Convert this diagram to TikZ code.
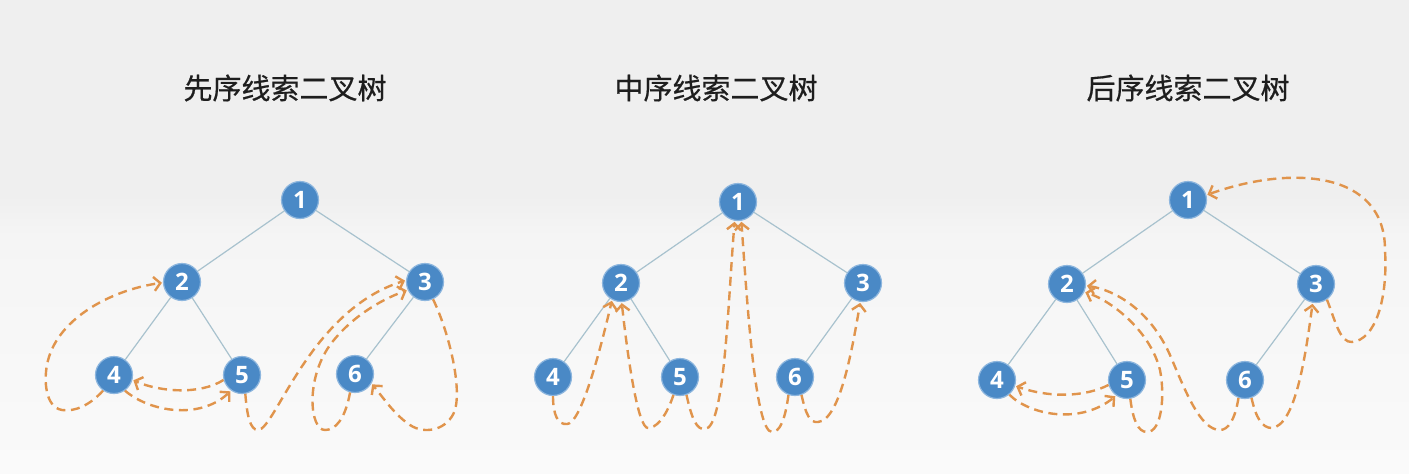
\documentclass[tikz,border=0pt]{standalone}
\usepackage{fontspec}
\setmainfont{Open Sans}
\newfontfamily\cjk[FakeBold=0.6]{Noto Sans CJK SC}
\usetikzlibrary{arrows.meta}
\definecolor{nodeblue}{HTML}{4A89C6}
\definecolor{ringblue}{HTML}{8DB6DE}
\definecolor{edgecol}{HTML}{A8C2CE}
\definecolor{threadcol}{HTML}{E0944C}
\definecolor{bgtop}{HTML}{EFEFEF}
\definecolor{bgmid}{HTML}{F5F5F5}
\definecolor{bgbot}{HTML}{FAFAFA}
\definecolor{titlecol}{HTML}{1E1E1E}
\tikzset{
  tnode/.style={circle, fill=nodeblue, draw=ringblue, line width=0.6pt, minimum size=18.5pt, inner sep=0pt,
    text=white, font=\fontsize{12}{12}\selectfont\bfseries},
  tedge/.style={draw=edgecol, line width=0.6pt},
  thread/.style={draw=threadcol, line width=1.2pt, dash pattern=on 4.5pt off 2.8pt,
    -{Straight Barb[length=3.2pt,width=7pt]}, shorten >=0.5pt},
  ttitle/.style={text=titlecol, font=\cjk\fontsize{14.5}{14.5}\selectfont}
}
\begin{document}
\begin{tikzpicture}[x=0.5pt,y=-0.5pt]
\useasboundingbox (0,0) rectangle (1409,473);
\fill[bgtop] (0,0) rectangle (1409,196);
\shade[top color=bgtop, bottom color=bgmid] (0,195) rectangle (1409,236);
\shade[top color=bgmid, bottom color=bgbot] (0,235) rectangle (1409,473);

% titles
\node[ttitle] (t1) at (285,88) {先序线索二叉树};
\node[ttitle] (t2) at (716,88) {中序线索二叉树};
\node[ttitle] (t3) at (1188,88) {后序线索二叉树};

% tree 1
\node[tnode] (a1) at (300,200) {1};
\node[tnode] (a2) at (182,282) {2};
\node[tnode] (a3) at (425,282) {3};
\node[tnode] (a4) at (114,375) {4};
\node[tnode] (a5) at (242,375) {5};
\node[tnode] (a6) at (355,374) {6};
% tree 2
\node[tnode] (b1) at (738,202) {1};
\node[tnode] (b2) at (621,283) {2};
\node[tnode] (b3) at (863,283) {3};
\node[tnode] (b4) at (553,377) {4};
\node[tnode] (b5) at (680,377) {5};
\node[tnode] (b6) at (795,377) {6};
% tree 3
\node[tnode] (c1) at (1188,200) {1};
\node[tnode] (c2) at (1067,284) {2};
\node[tnode] (c3) at (1316,284) {3};
\node[tnode] (c4) at (997,380) {4};
\node[tnode] (c5) at (1127,380) {5};
\node[tnode] (c6) at (1245,380) {6};

\foreach \p in {a,b,c}{
  \draw[tedge] (\p1) -- (\p2);
  \draw[tedge] (\p1) -- (\p3);
  \draw[tedge] (\p2) -- (\p4);
  \draw[tedge] (\p2) -- (\p5);
  \draw[tedge] (\p3) -- (\p6);
}

% threads tree 1 (preorder)
\draw[thread] (a4.-125) .. controls (90,405) and (75,412) .. (62,410)
  .. controls (45,407) and (44,380) .. (47,365)
  .. controls (55,320) and (110,290) .. (a2.182);
\draw[thread] (a4.-55) .. controls (150,412) and (200,420) .. (a5.-125);
\draw[thread] (a5.-165) .. controls (200,395) and (160,392) .. (a4.-15);
\draw[thread] (a5.-80) .. controls (247,415) and (250,430) .. (258,430)
  .. controls (275,430) and (310,310) .. (a3.175);
\draw[thread] (a6.-105) .. controls (345,420) and (335,430) .. (325,430)
  .. controls (310,430) and (305,380) .. (330,345)
  .. controls (350,318) and (380,300) .. (a3.-155);
\draw[thread] (a3.-65) .. controls (448,330) and (462,385) .. (455,410)
  .. controls (448,430) and (425,435) .. (410,425)
  .. controls (395,415) and (385,400) .. (a6.-30);

% threads tree 2 (inorder)
\draw[thread] (b4.-90) .. controls (553,415) and (558,425) .. (567,424)
  .. controls (580,424) and (598,360) .. (b2.-118);
\draw[thread] (b5.-110) .. controls (665,420) and (655,428) .. (648,428)
  .. controls (638,428) and (628,360) .. (b2.-88);
\draw[thread] (b5.-70) .. controls (692,420) and (697,430) .. (705,429)
  .. controls (725,428) and (728,300) .. (b1.-100);
\draw[thread] (b6.-110) .. controls (785,420) and (780,432) .. (772,432)
  .. controls (755,432) and (747,300) .. (b1.-80);
\draw[thread] (b6.-70) .. controls (806,415) and (810,423) .. (818,422)
  .. controls (840,420) and (852,350) .. (b3.-98);

% threads tree 3 (postorder)
\draw[thread] (c4.-50) .. controls (1030,415) and (1080,425) .. (c5.-125);
\draw[thread] (c5.-165) .. controls (1085,397) and (1050,398) .. (c4.-18);
\draw[thread] (c5.-80) .. controls (1133,420) and (1138,432) .. (1147,432)
  .. controls (1162,432) and (1165,395) .. (1160,370)
  .. controls (1150,330) and (1110,300) .. (c2.-25);
\draw[thread] (c6.-110) .. controls (1235,420) and (1228,430) .. (1220,430)
  .. controls (1200,430) and (1185,390) .. (1170,355)
  .. controls (1150,310) and (1115,290) .. (c2.-5);
\draw[thread] (c6.-70) .. controls (1256,418) and (1262,428) .. (1272,428)
  .. controls (1295,425) and (1305,360) .. (c3.-100);
\draw[thread] (c3.-55) .. controls (1335,320) and (1340,343) .. (1352,342)
  .. controls (1375,340) and (1388,300) .. (1385,250)
  .. controls (1385,170) and (1290,165) .. (c1.15);
\end{tikzpicture}
\end{document}
